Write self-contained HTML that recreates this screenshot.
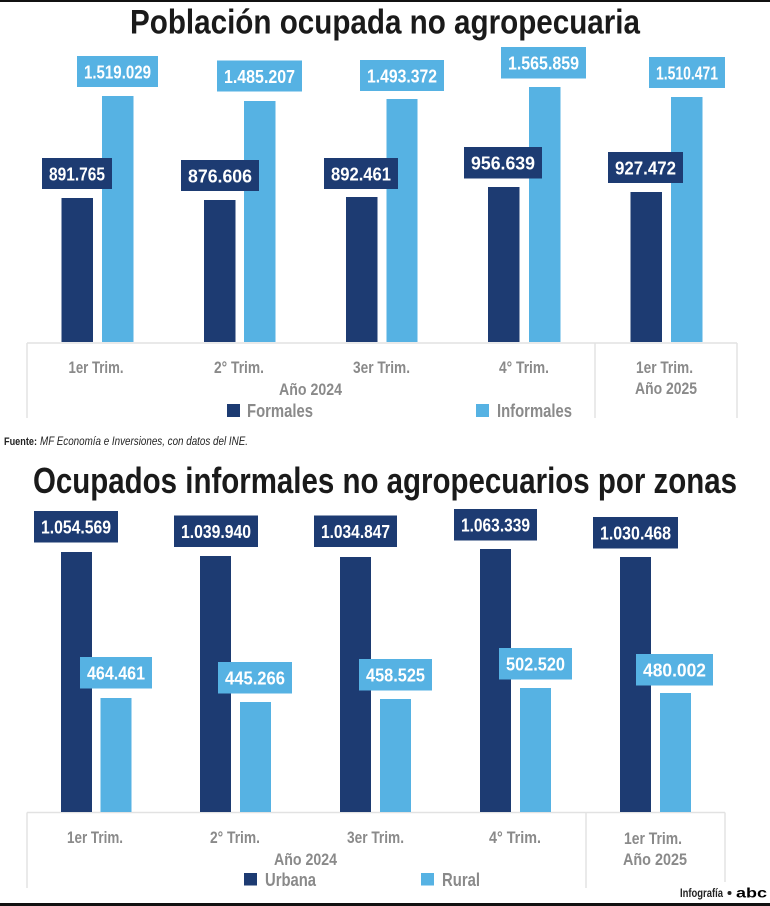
<!DOCTYPE html>
<html>
<head>
<meta charset="utf-8">
<style>
html,body{margin:0;padding:0;background:#fff;}
svg{display:block;}
text{font-family:"Liberation Sans",sans-serif;}
</style>
</head>
<body>
<svg width="770" height="906" viewBox="0 0 770 906" xmlns="http://www.w3.org/2000/svg">
<rect x="0" y="0" width="770" height="906" fill="#fff"/>
<rect x="0" y="0" width="770" height="2" fill="#111"/>
<rect x="0" y="903" width="770" height="3" fill="#111"/>

<!-- Title 1 -->
<text x="130" y="33.5" font-size="34.5" font-weight="bold" fill="#1a1a1a" textLength="510" lengthAdjust="spacingAndGlyphs">Población ocupada no agropecuaria</text>

<!-- Chart 1 axes -->
<g stroke="#e2e2e2" stroke-width="1.5" fill="none">
<line x1="27" y1="343" x2="737" y2="343"/>
<line x1="27" y1="343" x2="27" y2="418"/>
<line x1="595" y1="343" x2="595" y2="418"/>
<line x1="737" y1="343" x2="737" y2="418"/>
</g>

<!-- Chart 1 bars -->
<g fill="#1d3b72">
<rect x="61.5" y="198" width="31.5" height="144"/>
<rect x="204" y="200" width="31.5" height="142"/>
<rect x="346" y="197" width="31.5" height="145"/>
<rect x="488" y="187" width="31.5" height="155"/>
<rect x="630.5" y="192" width="31.5" height="150"/>
</g>
<g fill="#56b2e3">
<rect x="102" y="96" width="31.5" height="246"/>
<rect x="244" y="101" width="31.5" height="241"/>
<rect x="386.5" y="99" width="31" height="243"/>
<rect x="529" y="87" width="31.5" height="255"/>
<rect x="671" y="97" width="31.5" height="245"/>
</g>

<!-- Chart 1 value labels -->
<g font-size="18" font-weight="bold" fill="#fff" text-anchor="middle">
<rect x="77" y="56" width="81" height="31" fill="#56b2e3"/>
<text x="117.5" y="78.5" textLength="67" lengthAdjust="spacingAndGlyphs">1.519.029</text>
<rect x="42" y="158" width="70" height="31" fill="#1d3b72"/>
<text x="77" y="180.5" textLength="56" lengthAdjust="spacingAndGlyphs">891.765</text>

<rect x="217" y="60.5" width="85" height="31" fill="#56b2e3"/>
<text x="259.5" y="83" textLength="71" lengthAdjust="spacingAndGlyphs">1.485.207</text>
<rect x="181" y="160" width="78" height="31" fill="#1d3b72"/>
<text x="220" y="182.5" textLength="64" lengthAdjust="spacingAndGlyphs">876.606</text>

<rect x="360" y="60" width="84" height="31" fill="#56b2e3"/>
<text x="402" y="82.5" textLength="70" lengthAdjust="spacingAndGlyphs">1.493.372</text>
<rect x="324" y="158" width="74" height="31" fill="#1d3b72"/>
<text x="361" y="180.5" textLength="60" lengthAdjust="spacingAndGlyphs">892.461</text>

<rect x="501" y="47" width="85" height="31.5" fill="#56b2e3"/>
<text x="543.5" y="69.5" textLength="71" lengthAdjust="spacingAndGlyphs">1.565.859</text>
<rect x="464" y="147" width="78" height="31.5" fill="#1d3b72"/>
<text x="503" y="169.5" textLength="64" lengthAdjust="spacingAndGlyphs">956.639</text>

<rect x="649" y="57" width="76" height="31" fill="#56b2e3"/>
<text x="687" y="79.5" textLength="62" lengthAdjust="spacingAndGlyphs">1.510.471</text>
<rect x="608" y="152" width="75" height="31" fill="#1d3b72"/>
<text x="645.5" y="174.5" textLength="61" lengthAdjust="spacingAndGlyphs">927.472</text>
</g>

<!-- Chart 1 axis labels -->
<g font-size="16.5" font-weight="bold" fill="#8a8a8a" text-anchor="middle">
<text x="96" y="373" textLength="55" lengthAdjust="spacingAndGlyphs">1er Trim.</text>
<text x="239" y="373" textLength="50" lengthAdjust="spacingAndGlyphs">2° Trim.</text>
<text x="381.5" y="373" textLength="57" lengthAdjust="spacingAndGlyphs">3er Trim.</text>
<text x="524" y="373" textLength="50" lengthAdjust="spacingAndGlyphs">4° Trim.</text>
<text x="664.5" y="373" textLength="57" lengthAdjust="spacingAndGlyphs">1er Trim.</text>
<text x="666" y="394" textLength="62" lengthAdjust="spacingAndGlyphs">Año 2025</text>
<text x="310.5" y="395" textLength="63" lengthAdjust="spacingAndGlyphs">Año 2024</text>
</g>
<rect x="227" y="404" width="13" height="13" fill="#1d3b72"/>
<text x="247" y="417" font-size="18" font-weight="bold" fill="#8a8a8a" textLength="66" lengthAdjust="spacingAndGlyphs">Formales</text>
<rect x="476" y="404" width="13" height="13" fill="#56b2e3"/>
<text x="497" y="417" font-size="18" font-weight="bold" fill="#8a8a8a" textLength="75" lengthAdjust="spacingAndGlyphs">Informales</text>

<!-- Source -->
<text x="4" y="445" font-size="11" font-weight="bold" fill="#222" textLength="33" lengthAdjust="spacingAndGlyphs">Fuente:</text>
<text x="40" y="445" font-size="11.5" font-style="italic" fill="#222" textLength="208" lengthAdjust="spacingAndGlyphs">MF Economía e Inversiones, con datos del INE.</text>

<!-- Title 2 -->
<text x="33" y="493" font-size="36" font-weight="bold" fill="#1a1a1a" textLength="704" lengthAdjust="spacingAndGlyphs">Ocupados informales no agropecuarios por zonas</text>

<!-- Chart 2 axes -->
<g stroke="#e2e2e2" stroke-width="1.5" fill="none">
<line x1="27" y1="812.5" x2="725" y2="812.5"/>
<line x1="27" y1="812.5" x2="27" y2="888"/>
<line x1="586" y1="812.5" x2="586" y2="888"/>
<line x1="725" y1="812.5" x2="725" y2="882"/>
</g>

<!-- Chart 2 bars -->
<g fill="#1d3b72">
<rect x="61" y="552" width="31" height="260"/>
<rect x="200" y="556" width="31" height="256"/>
<rect x="340" y="557" width="31" height="255"/>
<rect x="480" y="549" width="31" height="263"/>
<rect x="620" y="557" width="31" height="255"/>
</g>
<g fill="#56b2e3">
<rect x="100.5" y="698" width="31" height="114"/>
<rect x="240" y="702" width="31" height="110"/>
<rect x="380" y="699" width="31" height="113"/>
<rect x="520" y="688" width="31" height="124"/>
<rect x="660" y="693" width="31" height="119"/>
</g>

<!-- Chart 2 value labels -->
<g font-size="18" font-weight="bold" fill="#fff" text-anchor="middle">
<rect x="34" y="511" width="84" height="31.5" fill="#1d3b72"/>
<text x="76" y="533.5" textLength="70" lengthAdjust="spacingAndGlyphs">1.054.569</text>
<rect x="80" y="657" width="72" height="31.5" fill="#56b2e3"/>
<text x="116" y="679.5" textLength="58" lengthAdjust="spacingAndGlyphs">464.461</text>

<rect x="174" y="515.5" width="84" height="31.5" fill="#1d3b72"/>
<text x="216" y="538" textLength="70" lengthAdjust="spacingAndGlyphs">1.039.940</text>
<rect x="218" y="662" width="74" height="31.5" fill="#56b2e3"/>
<text x="255" y="684.5" textLength="60" lengthAdjust="spacingAndGlyphs">445.266</text>

<rect x="314" y="515.5" width="83" height="31.5" fill="#1d3b72"/>
<text x="355.5" y="538" textLength="69" lengthAdjust="spacingAndGlyphs">1.034.847</text>
<rect x="359" y="659" width="73" height="31.5" fill="#56b2e3"/>
<text x="395.5" y="681.5" textLength="59" lengthAdjust="spacingAndGlyphs">458.525</text>

<rect x="454" y="509" width="83" height="31.5" fill="#1d3b72"/>
<text x="495.5" y="531.5" textLength="69" lengthAdjust="spacingAndGlyphs">1.063.339</text>
<rect x="499" y="648" width="73" height="31.5" fill="#56b2e3"/>
<text x="535.5" y="670.5" textLength="59" lengthAdjust="spacingAndGlyphs">502.520</text>

<rect x="593" y="517" width="85" height="31.5" fill="#1d3b72"/>
<text x="635.5" y="539.5" textLength="71" lengthAdjust="spacingAndGlyphs">1.030.468</text>
<rect x="636" y="654" width="77" height="31.5" fill="#56b2e3"/>
<text x="674.5" y="676.5" textLength="63" lengthAdjust="spacingAndGlyphs">480.002</text>
</g>

<!-- Chart 2 axis labels -->
<g font-size="16.5" font-weight="bold" fill="#8a8a8a" text-anchor="middle">
<text x="95" y="843" textLength="56" lengthAdjust="spacingAndGlyphs">1er Trim.</text>
<text x="235" y="843" textLength="50" lengthAdjust="spacingAndGlyphs">2° Trim.</text>
<text x="375.5" y="843" textLength="57" lengthAdjust="spacingAndGlyphs">3er Trim.</text>
<text x="515" y="843" textLength="52" lengthAdjust="spacingAndGlyphs">4° Trim.</text>
<text x="653" y="844" textLength="58" lengthAdjust="spacingAndGlyphs">1er Trim.</text>
<text x="655" y="865" textLength="64" lengthAdjust="spacingAndGlyphs">Año 2025</text>
<text x="305.5" y="865" textLength="63" lengthAdjust="spacingAndGlyphs">Año 2024</text>
</g>
<rect x="244" y="873" width="13" height="12.5" fill="#1d3b72"/>
<text x="265" y="886" font-size="18" font-weight="bold" fill="#8a8a8a" textLength="51" lengthAdjust="spacingAndGlyphs">Urbana</text>
<rect x="421" y="873" width="13" height="12.5" fill="#56b2e3"/>
<text x="442" y="886" font-size="18" font-weight="bold" fill="#8a8a8a" textLength="38" lengthAdjust="spacingAndGlyphs">Rural</text>

<!-- Footer -->
<text x="680" y="897" font-size="12" font-weight="bold" fill="#222" textLength="43" lengthAdjust="spacingAndGlyphs">Infografía</text>
<circle cx="729.5" cy="893" r="2" fill="#222"/>
<text x="736" y="897.5" font-size="14" font-weight="bold" fill="#000" textLength="31" lengthAdjust="spacingAndGlyphs">abc</text>
</svg>
</body>
</html>
